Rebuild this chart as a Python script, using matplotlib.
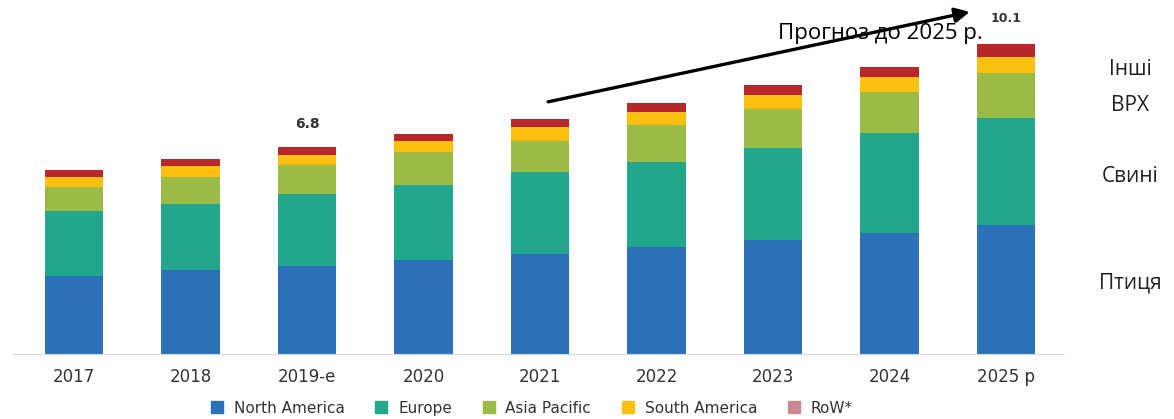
import numpy as np
import matplotlib
matplotlib.use("Agg")
import matplotlib.pyplot as plt

years = ["2017", "2018", "2019-e", "2020", "2021", "2022", "2023", "2024", "2025 р"]
regions = ["North America", "Europe", "Asia Pacific", "South America", "RoW*"]
north_america = [2.57, 2.77, 2.90, 3.08, 3.28, 3.51, 3.74, 3.98, 4.22]
europe = [2.12, 2.15, 2.35, 2.45, 2.68, 2.78, 3.02, 3.26, 3.51]
asia_pacific = [0.80, 0.89, 0.95, 1.08, 1.04, 1.21, 1.28, 1.36, 1.49]
south_america = [0.31, 0.34, 0.33, 0.37, 0.43, 0.43, 0.46, 0.47, 0.51]
row = [0.22, 0.26, 0.27, 0.25, 0.28, 0.30, 0.31, 0.33, 0.43]
totals_shown = {"2019-e": "6.8", "2025 р": "10.1"}
side_labels = ["Інші", "ВРХ", "Свині", "Птиця"]

colors = ["#2b71b8", "#22a68c", "#9bbb47", "#fcc010", "#b8282a"]
legend_colors = ["#2b71b8", "#22a68c", "#9bbb47", "#fcc010", "#c98a8f"]

fig = plt.figure(figsize=(11.74, 4.19), dpi=100)
ax = fig.add_axes([13 / 1174, 65 / 419, 1050 / 1174, 354 / 419])

x = np.arange(len(years))
bottom = np.zeros(len(years))
series = [north_america, europe, asia_pacific, south_america, row]
for vals, col in zip(series, colors):
    ax.bar(x, vals, width=0.5, bottom=bottom, color=col, linewidth=0)
    bottom += np.array(vals)

for i, yr in enumerate(years):
    if yr in totals_shown:
        fs = 10 if yr == "2019-e" else 9
        off = 0.75 if yr == "2019-e" else 0.85
        ax.text(x[i], bottom[i] + off, totals_shown[yr], ha="center", va="center",
                fontsize=fs, fontweight="bold", color="#333333")

ax.set_xlim(-0.524, 8.49)
ax.set_ylim(0, 11.61)
for s in ["top", "right", "left"]:
    ax.spines[s].set_visible(False)
ax.spines["bottom"].set_color("#d9d9d9")
ax.set_yticks([])
ax.set_xticks(x)
ax.set_xticklabels(years, fontsize=12, color="#333333")
ax.tick_params(axis="x", length=0, pad=10)

# forecast arrow
ax.annotate("", xy=(7.69, 11.22), xytext=(4.07, 8.27), annotation_clip=False,
            arrowprops=dict(arrowstyle="-|>", color="black", lw=2.4,
                            mutation_scale=22, shrinkA=0, shrinkB=0), zorder=5)
fig.text(0.75, 0.921, "Прогноз до 2025 р.", ha="center", va="center",
         fontsize=16, family="Open Sans", color="black", zorder=4)

side_y = [0.833, 0.749, 0.578, 0.325]
for lab, yy in zip(side_labels, side_y):
    fig.text(0.9625, yy, lab, ha="center", va="center", fontsize=15,
             family="Open Sans", color="#222222")

handles = [plt.Line2D([], [], marker="s", ls="", color=c, markersize=8) for c in legend_colors]
fig.legend(handles, regions, loc="center", bbox_to_anchor=(0.449, 0.026), ncol=5,
           frameon=False, fontsize=11, handletextpad=0.1, columnspacing=1.4,
           labelcolor="#333333")

fig.savefig("out.png", dpi=100)
